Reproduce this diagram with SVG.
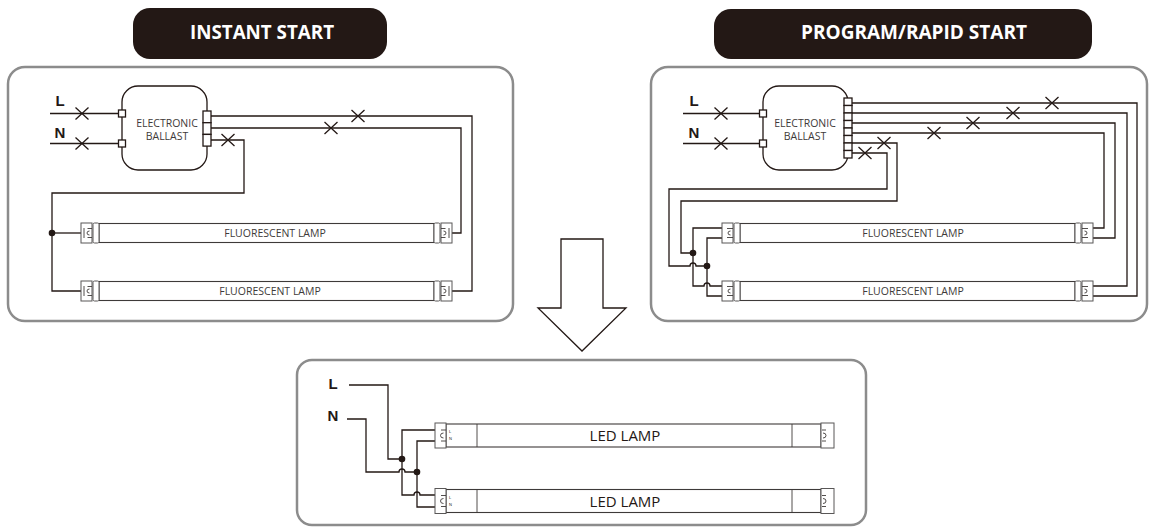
<svg xmlns="http://www.w3.org/2000/svg" width="1150" height="529" viewBox="0 0 1150 529">
<style>
.w{fill:none;stroke:#231815;stroke-width:1.3}
.fr{fill:#fff;stroke:#8c8c8c;stroke-width:2.5}
.pill{fill:#231815}
.ttl{font-family:"Open Sans","Liberation Sans",sans-serif;font-weight:700;font-size:19px;fill:#fff;text-anchor:middle}
.ln{font-family:"Liberation Sans",Arial,sans-serif;font-weight:700;font-size:15px;fill:#231815;text-anchor:middle}
.bt{font-family:"Open Sans","Liberation Sans",sans-serif;font-size:10.5px;fill:#3e3a39;text-anchor:middle}
.led{font-family:"Open Sans","Liberation Sans",sans-serif;font-size:15px;fill:#231815;text-anchor:middle}
.bb{fill:#fff;stroke:#231815;stroke-width:1.3}
.tb{fill:#fff;stroke:#3e3a39;stroke-width:1.1}
.cp{fill:#fff;stroke:#595757;stroke-width:1}
.pn{fill:none;stroke:#3e3a39;stroke-width:0.9}
.dot{fill:#231815}
.tiny{font-family:"Liberation Sans",Arial,sans-serif;font-size:4px;fill:#231815}
</style>
<defs>
<path id="x" class="w" d="M-6.5,-6 L6.5,6 M-6.5,6 L6.5,-6"/>
<g id="fcapI">
<rect class="cp" x="0" y="-10" width="11" height="20"/>
<path class="pn" d="M3,-5 V5 M11,-4.5 H6.5 M11,4.5 H6.5 M8.5,-2 Q6,-2 6,0 Q6,2 8.5,2"/>
<rect class="cp" x="12" y="-10" width="6" height="20" rx="1.5"/>
</g>
<g id="fcap">
<rect class="cp" x="0" y="-10" width="11" height="20"/>
<path class="pn" d="M11,-4.5 H5 M11,4.5 H5 M8.5,-2 Q6,-2 6,0 Q6,2 8.5,2"/>
<rect class="cp" x="12" y="-10" width="6" height="20" rx="1.5"/>
</g>
<g id="lcapL">
<rect class="cp" x="0" y="-12.5" width="11" height="25"/>
<path class="pn" d="M11,-5.5 H6 M11,5.5 H6 M8.5,-2.5 Q5.5,-2.5 5.5,0 Q5.5,2.5 8.5,2.5"/>
</g>
<g id="lcapR">
<rect class="cp" x="0" y="-12.5" width="13" height="25"/>
<path class="pn" d="M1,-5.5 H5 M1,5.5 H5 M2,-2.5 Q5,-2.5 5,0 Q5,2.5 2,2.5"/>
</g>
</defs>

<g id="panels">
<rect id="title-instant" class="pill" x="133" y="8" width="254" height="51" rx="17"/>
<text class="ttl" x="262" y="39" textLength="144" lengthAdjust="spacingAndGlyphs">INSTANT START</text>
<rect id="title-program" class="pill" x="714" y="9" width="378" height="50" rx="17"/>
<text class="ttl" x="914" y="39" textLength="226" lengthAdjust="spacingAndGlyphs">PROGRAM/RAPID START</text>
<rect class="fr" x="8" y="67" width="505" height="254" rx="17"/>
<rect class="fr" x="651" y="67" width="496" height="254" rx="17"/>
<rect class="fr" x="297" y="360" width="569" height="165" rx="15"/>
</g>

<g id="arrow">
<polygon points="561,239 603,239 603,308 626,308 582,351 538,308 561,308" fill="#fff" stroke="#231815" stroke-width="1.3"/>
</g>

<g id="connectors">
<path class="w" d="M50,113.5 H118.5 M50,143.5 H118.5"/>
<path class="w" d="M211,116 H472 V291 H452"/>
<path class="w" d="M211,128 H461 V233 H452"/>
<path class="w" d="M211,140 H244 V193 H52 V291 H81"/>
<path class="w" d="M52,233 H81"/>
<circle class="dot" cx="52" cy="233" r="3.3"/>
<use href="#x" x="82" y="113.5"/>
<use href="#x" x="82" y="143.5"/>
<use href="#x" x="358" y="116"/>
<use href="#x" x="331" y="128"/>
<use href="#x" x="228" y="140"/>
<path class="w" d="M683,113.5 H759.5 M683,143.5 H759.5"/>
<path class="w" d="M852,103 H1137 V296 H1093"/>
<path class="w" d="M852,113 H1127 V286 H1093"/>
<path class="w" d="M852,123 H1115 V238 H1093"/>
<path class="w" d="M852,133 H1104 V228 H1093"/>
<path class="w" d="M852,143 H897 V201 H681 V253 H693"/>
<path class="w" d="M852,153 H887 V189 H669 V266 H690 A3,3 0 0 1 696,266 H707"/>
<path class="w" d="M722,228 H693 V286 H704 A3,3 0 0 1 710,286 H722"/>
<path class="w" d="M722,238 H707 V296 H722"/>
<circle class="dot" cx="693" cy="253" r="3.3"/>
<circle class="dot" cx="707" cy="266" r="3.3"/>
<use href="#x" x="721" y="113.5"/>
<use href="#x" x="721" y="143.5"/>
<use href="#x" x="1052" y="103"/>
<use href="#x" x="1013" y="113"/>
<use href="#x" x="973" y="123"/>
<use href="#x" x="934" y="133"/>
<use href="#x" x="884" y="143"/>
<use href="#x" x="865" y="153"/>
<path class="w" d="M349,385 H388 V459 H402"/>
<path class="w" d="M347,419 H366 V472 H399 A3,3 0 0 1 405,472 H417"/>
<path class="w" d="M435,430 H402 V495 H414 A3,3 0 0 1 420,495 H435"/>
<path class="w" d="M435,441 H417 V507 H435"/>
<circle class="dot" cx="402" cy="459" r="3.3"/>
<circle class="dot" cx="417" cy="472" r="3.3"/>
</g>

<g id="labels">
<text class="ln" x="60" y="106">L</text>
<text class="ln" x="60" y="138">N</text>
<text class="ln" x="694" y="106">L</text>
<text class="ln" x="694" y="138">N</text>
<text class="ln" x="333" y="389">L</text>
<text class="ln" x="333" y="421">N</text>
</g>

<g id="ballast-left">
<rect class="bb" x="122" y="86" width="85" height="84" rx="16"/>
<rect class="bb" x="118.5" y="110" width="7" height="7"/>
<rect class="bb" x="118.5" y="140" width="7" height="7"/>
<rect class="bb" x="203" y="111" width="8" height="11.7"/>
<rect class="bb" x="203" y="122.7" width="8" height="11.7"/>
<rect class="bb" x="203" y="134.4" width="8" height="11.7"/>
<text class="bt" x="167" y="127">ELECTRONIC</text>
<text class="bt" x="167" y="139.5">BALLAST</text>
</g>

<g id="ballast-right">
<rect class="bb" x="763" y="86" width="85" height="84" rx="16"/>
<rect class="bb" x="759.5" y="110" width="7" height="7"/>
<rect class="bb" x="759.5" y="140" width="7" height="7"/>
<rect class="bb" x="844" y="98" width="8" height="7.5"/>
<rect class="bb" x="844" y="105.5" width="8" height="7.5"/>
<rect class="bb" x="844" y="113" width="8" height="7.5"/>
<rect class="bb" x="844" y="120.5" width="8" height="7.5"/>
<rect class="bb" x="844" y="128" width="8" height="7.5"/>
<rect class="bb" x="844" y="135.5" width="8" height="7.5"/>
<rect class="bb" x="844" y="143" width="8" height="7.5"/>
<rect class="bb" x="844" y="150.5" width="8" height="7.5"/>
<text class="bt" x="805" y="127">ELECTRONIC</text>
<text class="bt" x="805" y="139.5">BALLAST</text>
</g>

<g id="lamp-left-1">
<rect class="tb" x="99" y="223.5" width="335" height="19"/>
<use href="#fcapI" transform="translate(81,233)"/>
<use href="#fcapI" transform="translate(452,233) scale(-1,1)"/>
<text class="bt" x="275" y="237">FLUORESCENT LAMP</text>
</g>
<g id="lamp-left-2">
<rect class="tb" x="99" y="281.5" width="335" height="19"/>
<use href="#fcapI" transform="translate(81,291)"/>
<use href="#fcapI" transform="translate(452,291) scale(-1,1)"/>
<text class="bt" x="270" y="295">FLUORESCENT LAMP</text>
</g>

<g id="lamp-right-1">
<rect class="tb" x="740" y="223.5" width="335" height="19"/>
<use href="#fcap" transform="translate(722,233)"/>
<use href="#fcap" transform="translate(1093,233) scale(-1,1)"/>
<text class="bt" x="913" y="237">FLUORESCENT LAMP</text>
</g>
<g id="lamp-right-2">
<rect class="tb" x="740" y="281.5" width="335" height="19"/>
<use href="#fcap" transform="translate(722,291)"/>
<use href="#fcap" transform="translate(1093,291) scale(-1,1)"/>
<text class="bt" x="913" y="295">FLUORESCENT LAMP</text>
</g>

<g id="led-lamp-1">
<rect class="tb" x="446" y="424" width="375" height="23"/>
<path class="pn" d="M477,424 V447 M792,424 V447"/>
<use href="#lcapL" transform="translate(435,435.5)"/>
<use href="#lcapR" transform="translate(821,435.5)"/>
<text class="tiny" x="449" y="433">L</text>
<text class="tiny" x="449" y="440">N</text>
<text class="led" x="625" y="441">LED LAMP</text>
</g>
<g id="led-lamp-2">
<rect class="tb" x="446" y="489.5" width="375" height="23"/>
<path class="pn" d="M477,489.5 V512.5 M792,489.5 V512.5"/>
<use href="#lcapL" transform="translate(435,501)"/>
<use href="#lcapR" transform="translate(821,501)"/>
<text class="tiny" x="449" y="498.5">L</text>
<text class="tiny" x="449" y="505.5">N</text>
<text class="led" x="625" y="506.5">LED LAMP</text>
</g>
</svg>
